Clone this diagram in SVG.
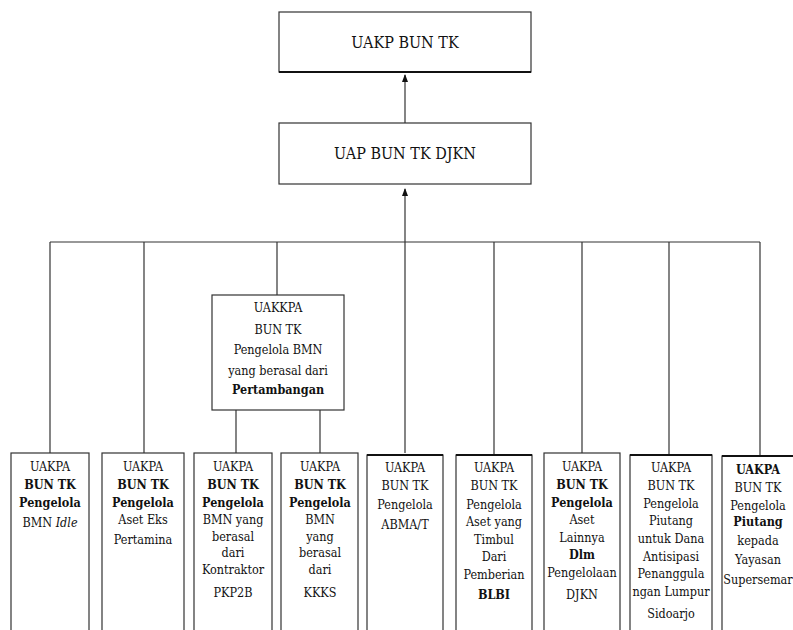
<svg xmlns="http://www.w3.org/2000/svg" width="793" height="630" viewBox="0 0 793 630">
<style>
.box{fill:#fff;stroke:#333;stroke-width:1.2}
.top{stroke:#111;stroke-width:2.2}
.ln{stroke:#333;stroke-width:1.2;fill:none}
text{fill:#111;text-anchor:middle;font-family:"DejaVu Serif Condensed","DejaVu Serif",serif;font-stretch:condensed}
.t{font-size:12.5px}
.h{font-size:16px}
.b{font-weight:bold}
</style>
<defs>
<marker id="arr" markerWidth="8" markerHeight="10" refX="7" refY="4" orient="auto" markerUnits="userSpaceOnUse">
<path d="M0,1 L8,4 L0,7 z" fill="#111"/>
</marker>
</defs>
<rect width="793" height="630" fill="#fff"/>
<g id="connectors">
<line class="ln" x1="405" y1="123" x2="405" y2="75" marker-end="url(#arr)"/>
<line class="ln" x1="405" y1="453" x2="405" y2="189" marker-end="url(#arr)"/>
<line class="ln" x1="50" y1="242" x2="760" y2="242"/>
<line class="ln" x1="50" y1="242" x2="50" y2="453"/>
<line class="ln" x1="144" y1="242" x2="144" y2="453"/>
<line class="ln" x1="277" y1="242" x2="277" y2="295"/>
<line class="ln" x1="236" y1="410" x2="236" y2="453"/>
<line class="ln" x1="320" y1="410" x2="320" y2="453"/>
<line class="ln" x1="494" y1="242" x2="494" y2="455"/>
<line class="ln" x1="582" y1="242" x2="582" y2="453"/>
<line class="ln" x1="669" y1="242" x2="669" y2="455"/>
<line class="ln" x1="760" y1="242" x2="760" y2="456"/>
</g>
<g id="uakp">
<rect class="box" x="279" y="12" width="252" height="60"/>
<line class="top" x1="279" y1="72" x2="531" y2="72"/>
<text class="h" x="405" y="48">UAKP BUN  TK</text>
</g>
<g id="uap">
<rect class="box" x="279" y="123" width="252" height="61"/>
<text class="h" x="405" y="159">UAP BUN TK DJKN</text>
</g>
<g id="uakkpa">
<rect class="box" x="212" y="295" width="132" height="115"/>
<text class="t" x="278" y="312">UAKKPA</text>
<text class="t" x="278" y="334">BUN TK</text>
<text class="t" x="278" y="354">Pengelola BMN</text>
<text class="t" x="278" y="375">yang berasal dari</text>
<text class="t b" x="278" y="394">Pertambangan</text>
</g>
<g id="n1">
<rect class="box" x="11" y="453" width="78" height="190"/>
<text class="t" x="50" y="471">UAKPA</text>
<text class="t b" x="50" y="489">BUN TK</text>
<text class="t b" x="50" y="507">Pengelola</text>
<text class="t" x="50" y="527">BMN <tspan font-style="italic">Idle</tspan></text>
</g>
<g id="n2">
<rect class="box" x="102" y="453" width="82" height="190"/>
<text class="t" x="143" y="471">UAKPA</text>
<text class="t b" x="143" y="489">BUN TK</text>
<text class="t b" x="143" y="507">Pengelola</text>
<text class="t" x="143" y="524">Aset Eks</text>
<text class="t" x="143" y="544">Pertamina</text>
</g>
<g id="n3">
<rect class="box" x="194" y="453" width="78" height="190"/>
<text class="t" x="233" y="471">UAKPA</text>
<text class="t b" x="233" y="489">BUN TK</text>
<text class="t b" x="233" y="507">Pengelola</text>
<text class="t" x="233" y="524">BMN yang</text>
<text class="t" x="233" y="541">berasal</text>
<text class="t" x="233" y="557">dari</text>
<text class="t" x="233" y="574">Kontraktor</text>
<text class="t" x="233" y="597">PKP2B</text>
</g>
<g id="n4">
<rect class="box" x="281" y="453" width="77" height="190"/>
<text class="t" x="320" y="471">UAKPA</text>
<text class="t b" x="320" y="489">BUN TK</text>
<text class="t b" x="320" y="507">Pengelola</text>
<text class="t" x="320" y="524">BMN</text>
<text class="t" x="320" y="541">yang</text>
<text class="t" x="320" y="557">berasal</text>
<text class="t" x="320" y="574">dari</text>
<text class="t" x="320" y="597">KKKS</text>
</g>
<g id="n5">
<rect class="box" x="367" y="455" width="76" height="190"/>
<line class="top" x1="367" y1="455" x2="443" y2="455"/>
<text class="t" x="405" y="472">UAKPA</text>
<text class="t" x="405" y="490">BUN TK</text>
<text class="t" x="405" y="509">Pengelola</text>
<text class="t" x="405" y="529">ABMA/T</text>
</g>
<g id="n6">
<rect class="box" x="456" y="455" width="76" height="190"/>
<line class="top" x1="456" y1="455" x2="532" y2="455"/>
<text class="t" x="494" y="472">UAKPA</text>
<text class="t" x="494" y="490">BUN TK</text>
<text class="t" x="494" y="509">Pengelola</text>
<text class="t" x="494" y="526">Aset yang</text>
<text class="t" x="494" y="544">Timbul</text>
<text class="t" x="494" y="561">Dari</text>
<text class="t" x="494" y="579">Pemberian</text>
<text class="t b" x="494" y="599">BLBI</text>
</g>
<g id="n7">
<rect class="box" x="544" y="453" width="76" height="190"/>
<text class="t" x="582" y="471">UAKPA</text>
<text class="t b" x="582" y="489">BUN TK</text>
<text class="t b" x="582" y="507">Pengelola</text>
<text class="t" x="582" y="524">Aset</text>
<text class="t" x="582" y="542">Lainnya</text>
<text class="t b" x="582" y="559">Dlm</text>
<text class="t" x="582" y="577">Pengelolaan</text>
<text class="t" x="582" y="599">DJKN</text>
</g>
<g id="n8">
<rect class="box" x="630" y="455" width="82" height="190"/>
<line class="top" x1="630" y1="455" x2="712" y2="455"/>
<text class="t" x="671" y="472">UAKPA</text>
<text class="t" x="671" y="490">BUN TK</text>
<text class="t" x="671" y="508">Pengelola</text>
<text class="t" x="671" y="525">Piutang</text>
<text class="t" x="671" y="543">untuk Dana</text>
<text class="t" x="671" y="561">Antisipasi</text>
<text class="t" x="671" y="578">Penanggula</text>
<text class="t" x="671" y="596">ngan Lumpur</text>
<text class="t" x="671" y="618">Sidoarjo</text>
</g>
<g id="n9">
<rect class="box" x="722" y="456" width="80" height="190"/>
<line class="top" x1="722" y1="456" x2="802" y2="456"/>
<text class="t b" x="758" y="474">UAKPA</text>
<text class="t" x="758" y="492">BUN TK</text>
<text class="t" x="758" y="510">Pengelola</text>
<text class="t b" x="758" y="526">Piutang</text>
<text class="t" x="758" y="545">kepada</text>
<text class="t" x="758" y="564">Yayasan</text>
<text class="t" x="758" y="584">Supersemar</text>
</g>
</svg>
